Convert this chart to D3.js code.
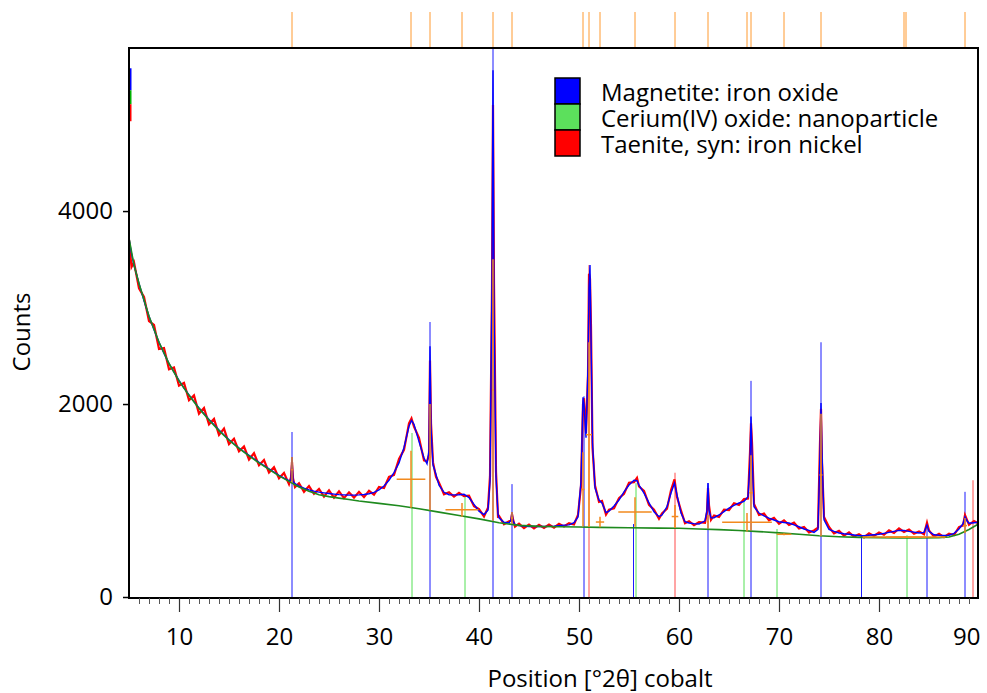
<!DOCTYPE html>
<html>
<head>
<meta charset="utf-8">
<script src="https://cdn.jsdelivr.net/npm/d3@7"></script>
<style>
    body { margin: 0; background: #fff; }
    svg { font-family: "Open Sans", sans-serif; }
</style>
</head>
<body>
<div class="container"></div>
<script>
// scan positions [°2θ] and counts
const twoTheta = [
    5.0, 5.25, 5.5, 6.0, 6.5, 7.0, 7.5, 8.0, 8.5, 9.0, 9.5, 10.0, 10.5, 11.0, 11.5, 12.0, 12.5, 13.0, 13.5, 14.0,
    14.5, 15.0, 15.5, 16.0, 16.5, 17.0, 17.5, 18.0, 18.5, 19.0, 19.5, 20.0, 20.5, 21.0, 21.2, 21.3, 21.4, 21.6, 22.0, 22.5,
    23.0, 23.5, 24.0, 24.5, 25.0, 25.5, 26.0, 26.5, 27.0, 27.5, 28.0, 28.5, 29.0, 29.5, 30.0, 30.5, 31.0, 31.5, 32.0, 32.5,
    33.0, 33.25, 33.5, 34.0, 34.5, 34.8, 35.0, 35.1, 35.2, 35.4, 35.7, 36.0, 36.5, 37.0, 37.5, 38.0, 38.5, 39.0, 39.5, 40.0,
    40.5, 40.9, 41.1, 41.3, 41.4, 41.5, 41.7, 41.9, 42.0, 42.5, 43.0, 43.2, 43.3, 43.4, 43.6, 44.0, 44.5, 45.0, 45.5, 46.0,
    46.5, 47.0, 47.5, 48.0, 48.5, 49.0, 49.5, 49.9, 50.2, 50.4, 50.5, 50.7, 50.9, 51.0, 51.1, 51.2, 51.35, 51.6, 52.0, 52.3,
    52.7, 53.0, 53.5, 54.0, 54.5, 55.0, 55.5, 55.8, 56.0, 56.5, 57.0, 57.5, 58.0, 58.3, 58.8, 59.2, 59.55, 59.8, 60.2, 60.6,
    61.0, 61.5, 62.0, 62.6, 62.8, 62.9, 63.0, 63.2, 63.5, 64.0, 64.5, 65.0, 65.5, 66.0, 66.5, 66.9, 67.1, 67.2, 67.3, 67.5,
    68.0, 68.5, 69.0, 69.5, 70.0, 70.5, 71.0, 71.5, 72.0, 72.5, 73.0, 73.5, 73.9, 74.1, 74.2, 74.3, 74.5, 75.0, 75.5, 76.0,
    76.5, 77.0, 77.5, 78.0, 78.5, 79.0, 79.5, 80.0, 80.5, 81.0, 81.5, 82.0, 82.5, 83.0, 83.5, 84.0, 84.5, 84.8, 85.0, 85.5,
    86.0, 86.5, 87.0, 87.5, 88.0, 88.4, 88.6, 88.8, 89.0, 89.5, 90.0
];

const observed = [
    3700, 3420, 3470, 3200, 3110, 2860, 2820, 2570, 2580, 2360, 2380, 2190, 2220, 2040, 2090, 1900, 1960, 1790, 1845, 1680,
    1745, 1585, 1640, 1510, 1560, 1425, 1490, 1365, 1420, 1290, 1345, 1230, 1285, 1170, 1240, 1400, 1230, 1140, 1180, 1090,
    1150, 1070, 1120, 1040, 1105, 1030, 1095, 1025, 1085, 1030, 1090, 1035, 1100, 1060, 1140, 1130, 1245, 1265, 1430, 1525,
    1800, 1850, 1765, 1650, 1415, 1405, 1470, 2450, 1800, 1395, 1245, 1185, 1065, 1085, 1040, 1080, 1045, 1050, 940, 910,
    835, 925, 1250, 3200, 5100, 3250, 1300, 835, 840, 755, 785, 790, 860, 805, 730, 760, 715, 750, 712, 748,
    716, 750, 718, 758, 732, 765, 752, 850, 1150, 2000, 2060, 1700, 2300, 3350, 3300, 2800, 1550, 1155, 985, 995,
    855, 905, 920, 1025, 1070, 1185, 1190, 1235, 1145, 1100, 955, 905, 810, 865, 915, 1105, 1220, 1035, 895, 765,
    785, 744, 775, 770, 880, 1130, 950, 800, 845, 830, 905, 900, 972, 955, 1015, 1020, 1500, 1800, 1600, 965,
    850, 865, 795, 820, 760, 795, 746, 770, 710, 725, 670, 690, 720, 1600, 1950, 1400, 830, 725, 660, 685,
    636, 670, 626, 650, 618, 660, 632, 668, 645, 690, 664, 710, 674, 700, 656, 680, 650, 770, 690, 626,
    655, 620, 657, 642, 725, 742, 850, 800, 748, 788, 758
];

const calculated = [
    3720, 3560, 3440, 3250, 3070, 2910, 2770, 2640, 2525, 2420, 2330, 2245, 2165, 2095, 2025, 1960, 1900, 1840, 1785, 1730,
    1680, 1630, 1585, 1545, 1505, 1468, 1432, 1397, 1362, 1328, 1295, 1262, 1232, 1205, 1210, 1450, 1200, 1175, 1150, 1128,
    1110, 1097, 1087, 1079, 1072, 1066, 1061, 1058, 1056, 1056, 1058, 1062, 1070, 1085, 1110, 1150, 1210, 1290, 1390, 1550,
    1770, 1830, 1790, 1610, 1440, 1380, 1520, 2600, 1750, 1370, 1270, 1160, 1085, 1060, 1058, 1060, 1065, 1030, 960, 890,
    855, 900, 1200, 3300, 5460, 3000, 1250, 860, 820, 775, 768, 800, 880, 790, 750, 740, 735, 730, 730, 730,
    730, 732, 735, 740, 745, 748, 770, 830, 1200, 2070, 2000, 1650, 2400, 3200, 3440, 2700, 1600, 1130, 1005, 975,
    875, 890, 943, 1005, 1090, 1160, 1210, 1205, 1160, 1077, 975, 884, 832, 850, 936, 1077, 1180, 1057, 870, 780,
    767, 760, 756, 790, 900, 1180, 900, 820, 822, 850, 885, 922, 950, 974, 990, 1040, 1400, 1870, 1500, 936,
    870, 840, 818, 798, 780, 772, 767, 748, 728, 705, 690, 670, 700, 1500, 2010, 1500, 800, 700, 680, 663,
    655, 650, 642, 635, 635, 640, 645, 650, 660, 670, 680, 690, 690, 680, 672, 663, 670, 745, 680, 645,
    640, 638, 640, 660, 705, 760, 830, 790, 765, 770, 775
];

// fitted background
const bgTheta = [
    5, 5.5, 6, 7, 8, 9, 10, 11, 12, 13, 14, 15, 16, 17, 18, 19, 20, 21, 22, 23, 24, 25, 26, 27, 28, 30, 32, 34, 36, 38,
    40, 42, 44, 46, 48, 50, 52, 55, 58, 60, 62, 64, 66, 68, 70, 72, 74, 76, 78, 80, 82, 84, 86, 87, 88, 89, 90
];
const bgCounts = [
    3720, 3440, 3250, 2910, 2640, 2420, 2240, 2090, 1955, 1835, 1725, 1625, 1540, 1462, 1390, 1322, 1255, 1198, 1140, 1095,
    1060, 1040, 1025, 1010, 995, 970, 945, 915, 880, 845, 810, 770, 742, 732, 728, 725, 722, 718, 714, 712, 705, 698, 690,
    678, 665, 650, 635, 625, 618, 615, 612, 612, 615, 622, 650, 700, 760
];

// reference patterns (position, height in counts)
const magnetitePos = [21.3, 35.1, 41.4, 43.3, 50.5, 55.45, 62.9, 67.2, 74.2, 78.25, 84.8, 88.6];
const magnetiteCounts = [1710, 2850, 5690, 1170, 2080, 756, 1180, 2240, 2640, 620, 765, 1090];
const ceriaPos = [33.3, 38.6, 55.7, 66.5, 69.8, 82.8];
const ceriaCounts = [1700, 1040, 1180, 987, 705, 640];
const taenitePos = [51.0, 59.6, 89.4];
const taeniteCounts = [3440, 1288, 1210];

// fitted peaks: position, background level, top, FWHM
const peakPos = [21.3, 33.2, 35.1, 38.3, 41.4, 43.3, 50.4, 51.0, 52.1, 55.6, 59.6, 62.9, 66.8, 67.2, 70.5, 74.2, 82.5, 82.7, 88.6];
const peakBase = [1190, 925, 900, 832, 790, 760, 730, 725, 722, 728, 715, 710, 680, 690, 640, 630, 612, 612, 660];
const peakTop = [1450, 1516, 2000, 974, 3500, 880, 1500, 2640, 832, 1033, 953, 850, 870, 1470, 660, 1900, 630, 632, 820];
const peakFwhm = [0.15, 2.87, 0.2, 3.3, 0.15, 0.2, 0.3, 0.6, 0.83, 3.34, 0.66, 0.2, 4.97, 0.35, 1.47, 0.3, 8.3, 4.0, 0.4];

// small marks on the left frame edge
const edgeTop = [5480, 5252, 5107];
const edgeBottom = [5252, 5107, 4931];

const legendNames = ["Magnetite: iron oxide", "Cerium(IV) oxide: nanoparticle", "Taenite, syn: iron nickel"];
const yTicks = [0, 2000, 4000];
const xTicks = [10, 20, 30, 40, 50, 60, 70, 80, 90];

const render = () => {
    const w = 987;
    const h = 693;
    const left = 129, right = 978, top = 48, bottom = 597;

    const xScale = d3.scaleLinear().domain([5, 89.9]).range([left, right]);
    const yScale = d3.scaleLinear().domain([0, 5690]).range([bottom, top]);

    const svg = d3
        .select(".container")
        .append("svg")
        .attr("width", w)
        .attr("height", h);

    svg.append("defs")
        .append("clipPath")
        .attr("id", "plot-clip")
        .append("rect")
        .attr("x", left)
        .attr("y", top)
        .attr("width", right - left)
        .attr("height", bottom - top + 1);

    const plot = svg.append("g").attr("clip-path", "url(#plot-clip)");

    // reference sticks
    const sticks = [
        { pos: magnetitePos, counts: magnetiteCounts, color: "#1a1aff" },
        { pos: ceriaPos, counts: ceriaCounts, color: "#55e055" },
        { pos: taenitePos, counts: taeniteCounts, color: "#ff4a4a" },
    ];
    sticks.forEach((s) => {
        plot.append("g")
            .selectAll("line")
            .data(s.pos)
            .enter()
            .append("line")
            .attr("x1", (d) => xScale(d))
            .attr("x2", (d) => xScale(d))
            .attr("y1", yScale(0))
            .attr("y2", (d, i) => yScale(s.counts[i]))
            .attr("stroke", s.color)
            .attr("stroke-width", 1);
    });

    const line = (ys, xs) =>
        d3
            .line()
            .x((d, i) => xScale(xs[i]))
            .y((d) => yScale(d))(ys);

    plot.append("path")
        .attr("d", line(observed, twoTheta))
        .attr("fill", "none")
        .attr("stroke", "#ff0000")
        .attr("stroke-width", 2.2);

    plot.append("path")
        .attr("d", line(calculated, twoTheta))
        .attr("fill", "none")
        .attr("stroke", "#0000ff")
        .attr("stroke-width", 1.4);

    plot.append("path")
        .attr("d", line(bgCounts, bgTheta))
        .attr("fill", "none")
        .attr("stroke", "#1e8a1e")
        .attr("stroke-width", 1.6);

    // peak crosses
    const cross = plot.append("g").attr("stroke", "#f28a1e").attr("stroke-width", 1.5);
    cross.selectAll(".v")
        .data(peakPos)
        .enter()
        .append("line")
        .attr("class", "v")
        .attr("x1", (d) => xScale(d))
        .attr("x2", (d) => xScale(d))
        .attr("y1", (d, i) => yScale(peakBase[i]))
        .attr("y2", (d, i) => yScale(peakTop[i]));
    cross.selectAll(".hz")
        .data(peakPos)
        .enter()
        .append("line")
        .attr("class", "hz")
        .attr("x1", (d, i) => xScale(d - peakFwhm[i] / 2))
        .attr("x2", (d, i) => xScale(d + peakFwhm[i] / 2))
        .attr("y1", (d, i) => yScale((peakBase[i] + peakTop[i]) / 2))
        .attr("y2", (d, i) => yScale((peakBase[i] + peakTop[i]) / 2));

    // peak positions above the frame
    svg.append("g")
        .selectAll("line")
        .data(peakPos)
        .enter()
        .append("line")
        .attr("x1", (d) => xScale(d))
        .attr("x2", (d) => xScale(d))
        .attr("y1", 12)
        .attr("y2", top)
        .attr("stroke", "#ff9a30")
        .attr("stroke-width", 1);

    // edge marks
    const edgeColors = ["#0000ff", "#00b000", "#ff0000"];
    svg.append("g")
        .selectAll("line")
        .data(edgeTop)
        .enter()
        .append("line")
        .attr("x1", left + 1.5)
        .attr("x2", left + 1.5)
        .attr("y1", (d) => yScale(d))
        .attr("y2", (d, i) => yScale(edgeBottom[i]))
        .attr("stroke", (d, i) => edgeColors[i])
        .attr("stroke-width", 2);

    // frame
    svg.append("rect")
        .attr("x", left)
        .attr("y", top)
        .attr("width", right - left)
        .attr("height", bottom + 1 - top)
        .attr("fill", "none")
        .attr("stroke", "#000")
        .attr("stroke-width", 2);

    // x axis
    const xAxis = d3.axisBottom(xScale).tickValues(xTicks).tickSize(14).tickSizeOuter(0).tickPadding(16);
    const gx = svg.append("g")
        .attr("transform", `translate(0, ${bottom + 1})`)
        .call(xAxis);
    gx.select(".domain").remove();
    gx.selectAll(".tick line").attr("stroke", "#333").attr("stroke-width", 1.2);
    gx.selectAll("text").attr("font-size", 24).attr("font-family", "Open Sans").attr("fill", "#000");
    gx.selectAll(".tick")
        .filter((d) => d === 90)
        .select("text")
        .attr("text-anchor", "end")
        .attr("x", 1);
    gx.selectAll(".tick").filter((d) => d === 90).select("line").remove();

    const minor = d3.range(6, 90).filter((d) => d % 10 !== 0);
    const gm = svg.append("g")
        .attr("transform", `translate(0, ${bottom + 1})`)
        .call(d3.axisBottom(xScale).tickValues(minor).tickSize(6).tickFormat(""));
    gm.select(".domain").remove();
    gm.selectAll(".tick line").attr("stroke", "#555");

    // y axis
    const yAxis = d3
        .axisLeft(yScale)
        .tickValues(yTicks)
        .tickFormat(d3.format("d"))
        .tickSize(6)
        .tickSizeOuter(0)
        .tickPadding(10);
    const gy = svg.append("g")
        .attr("transform", `translate(${left}, 0)`)
        .call(yAxis);
    gy.select(".domain").remove();
    gy.selectAll(".tick line").attr("stroke", "#000").attr("stroke-width", 1.5);
    gy.selectAll("text").attr("font-size", 24).attr("font-family", "Open Sans").attr("fill", "#000");

    // titles
    svg.append("text")
        .attr("x", 600)
        .attr("y", 687)
        .attr("text-anchor", "middle")
        .attr("font-size", 24)
        .text("Position [°2θ] cobalt");

    svg.append("text")
        .attr("transform", "translate(30, 332) rotate(-90)")
        .attr("text-anchor", "middle")
        .attr("font-size", 24)
        .text("Counts");

    // legend
    const legendColors = ["#0000ff", "#5ce05c", "#ff0000"];
    const legend = svg.append("g").attr("transform", "translate(555, 78)");
    legend.selectAll("rect")
        .data(legendNames)
        .enter()
        .append("rect")
        .attr("x", 0)
        .attr("y", (d, i) => i * 26)
        .attr("width", 25)
        .attr("height", 26)
        .attr("fill", (d, i) => legendColors[i])
        .attr("stroke", "#000")
        .attr("stroke-width", 1.5);
    legend.selectAll("text")
        .data(legendNames)
        .enter()
        .append("text")
        .attr("x", 46)
        .attr("y", (d, i) => 23 + i * 26)
        .attr("font-size", 24)
        .text((d) => d);
};

render();
</script>
</body>
</html>
